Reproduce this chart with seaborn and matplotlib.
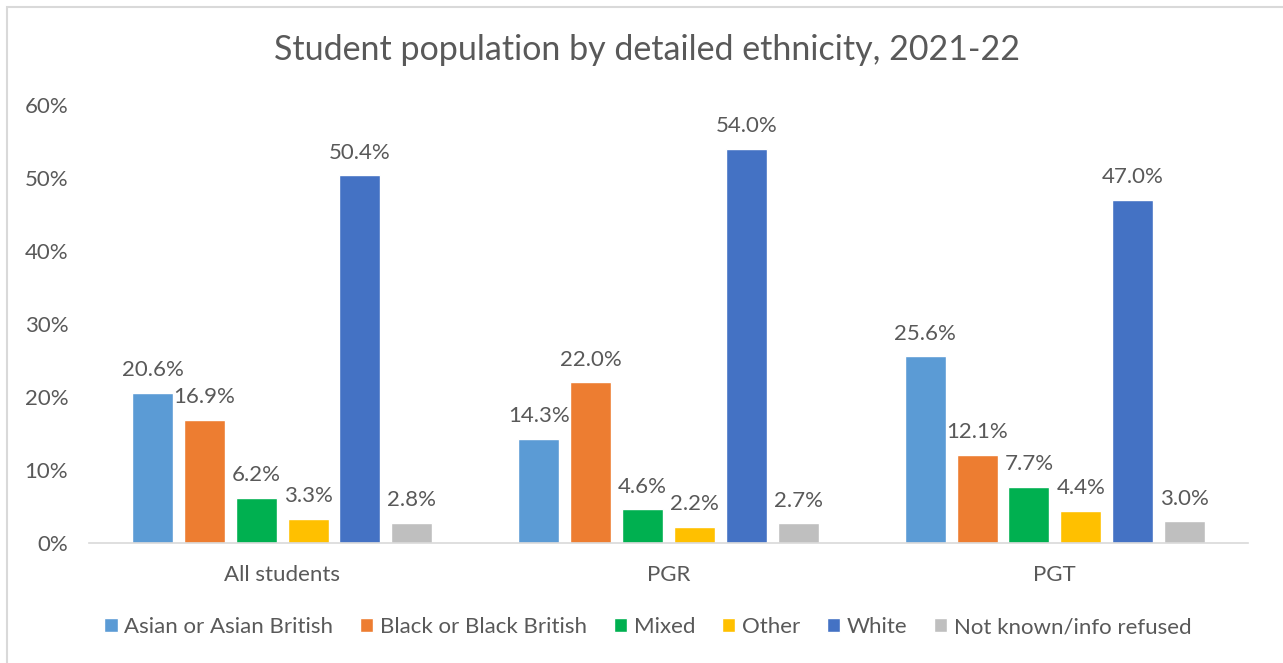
import pandas as pd
import matplotlib.pyplot as plt
import seaborn as sns
from matplotlib.patches import Rectangle
from matplotlib.ticker import PercentFormatter

# data
groups = ["All students", "PGR", "PGT"]
ethnicities = ["Asian or Asian British", "Black or Black British", "Mixed",
               "Other", "White", "Not known/info refused"]
all_students = [20.6, 16.9, 6.2, 3.3, 50.4, 2.8]
pgr = [14.3, 22.0, 4.6, 2.2, 54.0, 2.7]
pgt = [25.6, 12.1, 7.7, 4.4, 47.0, 3.0]
colors = ["#5B9BD5", "#ED7D31", "#00B050", "#FFC000", "#4472C4", "#BFBFBF"]

rows = []
for g, vals in zip(groups, [all_students, pgr, pgt]):
    for e, v in zip(ethnicities, vals):
        rows.append({"group": g, "ethnicity": e, "value": v})
df = pd.DataFrame(rows)

sns.set_style("white")
plt.rcParams["font.family"] = ["Lato", "DejaVu Sans"]
text_col = "#595959"
fs = 16

fig = plt.figure(figsize=(12.83, 6.63), dpi=100)
ax = fig.add_axes([89 / 1283, 120 / 663, 1159 / 1283, 438 / 663])

sns.barplot(data=df, x="group", y="value", hue="ethnicity", order=groups,
            hue_order=ethnicities, palette=colors, width=0.805, gap=0.21,
            saturation=1, ax=ax, legend=True)

# value labels above bars
for cont in ax.containers:
    ax.bar_label(cont, labels=[f"{b.get_height():.1f}%" for b in cont],
                 padding=9, fontsize=fs, color=text_col)

ax.set_xlim(-0.5, 2.5)
ax.set_ylim(0, 60)
ax.set_yticks(range(0, 61, 10))
ax.yaxis.set_major_formatter(PercentFormatter(decimals=0))
ax.set_xlabel("")
ax.set_ylabel("")
ax.tick_params(axis="y", length=0, pad=15, labelsize=fs, labelcolor=text_col)
ax.tick_params(axis="x", length=0, pad=16, labelsize=fs, labelcolor=text_col)
for s in ["top", "right", "left"]:
    ax.spines[s].set_visible(False)
ax.spines["bottom"].set_color("#D9D9D9")
ax.spines["bottom"].set_linewidth(1.2)

fig.suptitle("Student population by detailed ethnicity, 2021-22",
             x=647 / 1283, y=1 - 50 / 663, va="center",
             fontsize=24.5, color=text_col)

handles, labels = ax.get_legend_handles_labels()
ax.legend(handles, labels, loc="center", bbox_to_anchor=(648 / 1283, 1 - 627 / 663),
          bbox_transform=fig.transFigure, ncol=6, frameon=False,
          fontsize=fs, labelcolor=text_col, handlelength=0.6, handleheight=0.6,
          handletextpad=0.3, columnspacing=1.2)

# outer chart border
fig.patches.append(Rectangle((7 / 1283, -0.05), 1.1, 1 - 7 / 663 + 0.05,
                             transform=fig.transFigure, fill=False,
                             edgecolor="#D9D9D9", linewidth=1.5))

fig.savefig("out.png", dpi=100, facecolor="white")
